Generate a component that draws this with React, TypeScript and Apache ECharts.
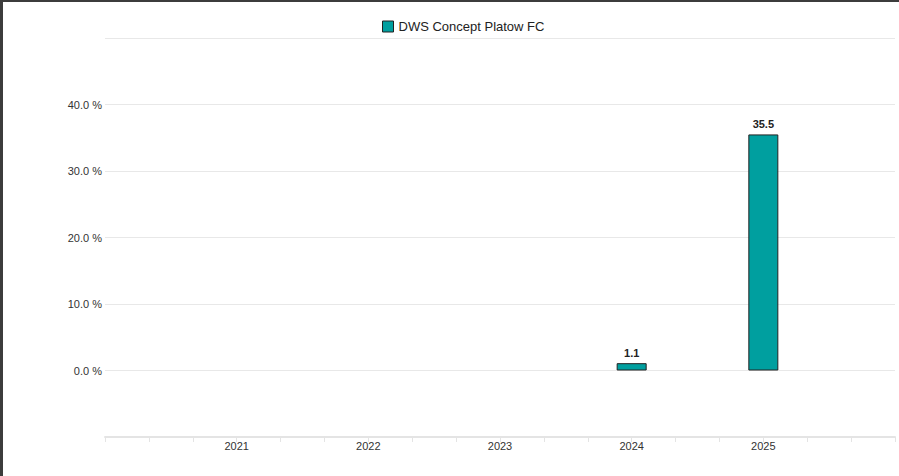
import React, { useEffect, useRef } from "react";
import * as echarts from "echarts";

const seriesName = "DWS Concept Platow FC";
const years = [2021, 2022, 2023, 2024, 2025];
const values: (number | null)[] = [null, null, null, 1.1, 35.5];
const yTickValues = [0, 10, 20, 30, 40];

export default function App() {
  const ref = useRef<HTMLDivElement>(null);
  useEffect(() => {
    if (!ref.current) return;
    const chart = echarts.init(ref.current, undefined, { renderer: "svg" });
    const font = "'Liberation Sans', Arial, sans-serif";
    chart.setOption({
      animation: false,
      backgroundColor: "#ffffff",
      textStyle: { fontFamily: font },
      graphic: [
        { type: "line", shape: { x1: 0, y1: 1, x2: 899, y2: 1 }, style: { stroke: "#3c3c3c", lineWidth: 2 } },
        { type: "line", shape: { x1: 1.5, y1: 0, x2: 1.5, y2: 476 }, style: { stroke: "#3c3c3c", lineWidth: 3 } },
      ],
      legend: {
        left: 377,
        top: 15,
        itemWidth: 11,
        itemHeight: 11,
        itemGap: 5,
        icon: "rect",
        textStyle: { fontSize: 13, color: "#222", fontFamily: font },
        data: [{ name: seriesName, itemStyle: { borderColor: "#222", borderWidth: 1 } }],
      },
      grid: { left: 105, right: 4, top: 38, bottom: 39, containLabel: false },
      xAxis: {
        type: "value",
        min: 2020,
        max: 2026,
        interval: 1,
        axisLine: { show: true, onZero: false, lineStyle: { color: "#e4e4e4", width: 2 } },
        axisTick: { show: true, length: 5, lineStyle: { color: "#e4e4e4" } },
        minorTick: { show: true, splitNumber: 3, length: 5, lineStyle: { color: "#e4e4e4" } },
        splitLine: { show: false },
        axisLabel: {
          margin: 3,
          fontSize: 11,
          color: "#333",
          fontFamily: font,
          formatter: (v: number) => (years.includes(v) ? String(v) : ""),
        },
      },
      yAxis: {
        type: "value",
        min: -10,
        max: 50,
        interval: 10,
        axisLine: { show: false },
        axisTick: { show: false },
        splitLine: { show: true, lineStyle: { color: "#e8e8e8", width: 1 } },
        axisLabel: {
          margin: 3,
          fontSize: 11,
          color: "#333",
          fontFamily: font,
          formatter: (v: number) => (yTickValues.includes(v) ? v.toFixed(1) + " %" : ""),
        },
      },
      series: [
        {
          name: seriesName,
          type: "bar",
          barWidth: 30,
          data: years.map((y, i) => [y, values[i]]),
          itemStyle: { color: "#009f9f", borderColor: "#222", borderWidth: 1 },
          label: {
            show: true,
            position: "top",
            distance: 5,
            fontSize: 11,
            fontWeight: "bold",
            color: "#222",
            fontFamily: font,
            formatter: (p: any) => (p.value[1] == null ? "" : Number(p.value[1]).toFixed(1)),
          },
        },
      ],
    });
    return () => chart.dispose();
  }, []);
  return (
    <div
      ref={ref}
      style={{ position: "fixed", left: 0, top: 0, width: 899, height: 476 }}
    />
  );
}
